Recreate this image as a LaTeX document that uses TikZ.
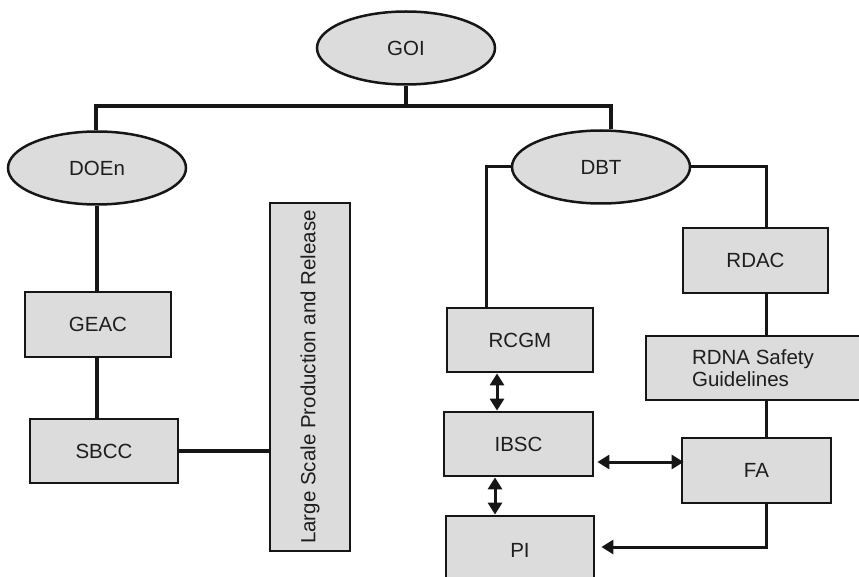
\documentclass[tikz,border=0pt]{standalone}
\usepackage{fontspec}
\setmainfont{Liberation Sans}
\usetikzlibrary{shapes.geometric,arrows.meta}
\definecolor{boxfill}{HTML}{DCDCDC}
\definecolor{ink}{HTML}{161616}
\definecolor{label}{HTML}{1E1E1E}
\begin{document}
\begin{tikzpicture}[x=1pt,y=-1pt,
  every node/.style={font=\fontsize{20.5}{22}\selectfont, text=label},
  orgbox/.style={draw=ink, fill=boxfill, line width=2.8pt, rectangle, inner sep=0pt},
  orgoval/.style={draw=ink, fill=boxfill, line width=2.5pt, ellipse, inner sep=0pt,
                  minimum width=178pt, minimum height=73pt},
  trunk/.style={draw=ink, line width=4pt},
  branch/.style={draw=ink, line width=3pt},
  tip/.tip={Triangle[length=12pt,width=14pt]},
  link/.style={draw=ink, line width=3pt, tip-tip},
  feed/.style={draw=ink, line width=3pt, -tip}
]
\useasboundingbox (0,0) rectangle (859,577);
\clip (0,0) rectangle (859,577);

% ministries
\node[orgoval] (goi)  at (406,48)  {GOI};
\node[orgoval] (doen) at (97,168)  {DOEn};
\node[orgoval] (dbt)  at (601,167) {DBT};

% environment branch
\node[orgbox, minimum width=146pt, minimum height=65pt] (geac) at (98,324.5) {GEAC};
\node[orgbox, minimum width=148pt, minimum height=64pt] (sbcc) at (104,451) {SBCC};
\node[orgbox, rotate=90, minimum width=348pt, minimum height=80pt] (lsp) at (310,377)
  {Large Scale Production and Release};

% biotechnology branch
\node[orgbox, minimum width=146pt, minimum height=64pt] (rcgm) at (520,340)   {RCGM};
\node[orgbox, minimum width=149pt, minimum height=64pt] (ibsc) at (518.5,444) {IBSC};
\node[orgbox, minimum width=148pt, minimum height=68pt] (pi)   at (520,550)   {PI};
\node[orgbox, minimum width=145pt, minimum height=65pt] (rdac) at (755.5,260.5) {RDAC};
\node[orgbox, minimum width=214pt, minimum height=64pt, align=left] (rdna) at (753,368)
  {RDNA Safety\\Guidelines};
\node[orgbox, minimum width=149pt, minimum height=65pt] (fa)   at (756.5,470.5) {FA};

% helper coordinates for connector routes
\coordinate (barL) at (96,106);
\coordinate (barR) at (611,106);
\coordinate (envx) at (97,0);
\coordinate (lx)  at (486,0);
\coordinate (rx)  at (766,0);
\coordinate (ax1) at (497,0);
\coordinate (ax2) at (495,0);
\coordinate (ay)  at (0,462);
\coordinate (py)  at (0,547);
\path ([xshift=3pt]ibsc.east) coordinate (ie)
      ([xshift=3pt]fa.west)   coordinate (fw)
      ([xshift=6pt]pi.east)   coordinate (pe);

% top bar
\draw[trunk] (barL |- doen.north) -- (barL) -- (barR) -- (barR |- dbt.north);
\draw[trunk] (goi.south) -- (goi.south |- barL);

% environment connectors
\draw[trunk] (doen.south -| envx) -- (geac.north -| envx);
\draw[trunk] (geac.south -| envx) -- (sbcc.north -| envx);
\draw[trunk] (sbcc.east) -- (sbcc.east -| lsp.north);

% biotechnology connectors
\draw[branch] (dbt.west) -| (rcgm.north -| lx);
\draw[branch] (dbt.east) -| (rdac.north -| rx);
\draw[branch] (rdac.south -| rx) -- (rdna.north -| rx);
\draw[branch] (rdna.south -| rx) -- (fa.north -| rx);
\draw[link] (rcgm.south -| ax1) -- (ibsc.north -| ax1);
\draw[link] (ibsc.south -| ax2) -- (pi.north -| ax2);
\draw[link] (ie |- ay) -- (fw |- ay);
\draw[feed] (fa.south -| rx) |- (pe |- py);
\end{tikzpicture}
\end{document}
